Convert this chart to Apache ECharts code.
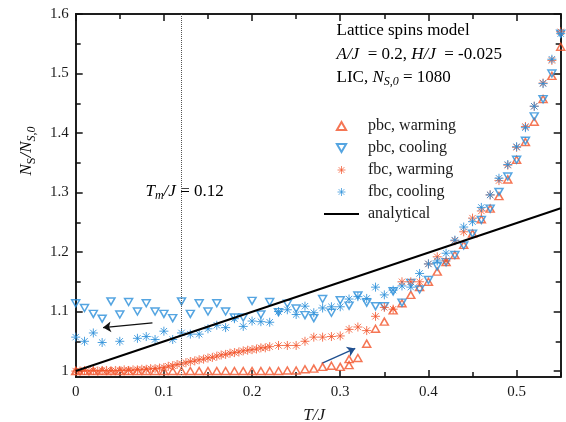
<!DOCTYPE html>
<html><head><meta charset="utf-8">
<script src="https://cdn.jsdelivr.net/npm/echarts/dist/echarts.min.js"></script>
<style>html,body{margin:0;padding:0;background:#fff}#c{width:566px;height:422px}</style>
</head><body><div id="c"></div>
<script>
// ---------- data ----------
const tGrid = [0.00,0.01,0.02,0.03,0.04,0.05,0.06,0.07,0.08,0.09,0.10,0.11,0.12,0.13,0.14,0.15,0.16,0.17,0.18,0.19,0.20,0.21,0.22,0.23,0.24,0.25,0.26,0.27,0.28,0.29,0.30,0.31,0.32,0.33,0.34,0.35,0.36,0.37,0.38,0.39,0.40,0.41,0.42,0.43,0.44,0.45,0.46,0.47,0.48,0.49,0.50,0.51,0.52,0.53,0.54,0.55];

const pbcWarmY = [1.000,1.000,1.000,1.000,1.000,1.000,1.000,1.000,1.000,1.000,1.000,1.000,1.000,1.000,1.000,1.000,1.000,1.000,1.000,1.000,1.000,1.000,1.000,1.000,1.001,1.001,1.003,1.004,1.007,1.009,1.007,1.010,1.022,1.046,1.071,1.083,1.102,1.114,1.128,1.141,1.150,1.167,1.183,1.195,1.212,1.231,1.255,1.273,1.294,1.322,1.355,1.385,1.419,1.457,1.496,1.545];
const pbcWarmExtraX = [0.31];
const pbcWarmExtraY = [1.020];

const pbcCoolY = [1.114,1.106,1.096,1.088,1.117,1.095,1.116,1.100,1.114,1.100,1.096,1.089,1.117,1.096,1.114,1.100,1.114,1.100,1.090,1.090,1.118,1.095,1.116,1.099,1.113,1.105,1.094,1.089,1.121,1.098,1.119,1.110,1.127,1.115,1.109,1.109,1.134,1.115,1.148,1.137,1.153,1.176,1.183,1.195,1.211,1.231,1.254,1.273,1.301,1.327,1.355,1.387,1.428,1.457,1.500,1.567];

const fbcWarmX = [0.000,0.005,0.010,0.015,0.020,0.025,0.030,0.035,0.040,0.045,0.050,0.055,0.060,0.065,0.070,0.075,0.080,0.085,0.090,0.095,0.100,0.105,0.110,0.115,0.120,0.125,0.130,0.135,0.140,0.145,0.150,0.155,0.160,0.165,0.170,0.175,0.180,0.185,0.190,0.195,0.200,0.205,0.210,0.215,0.220,
  0.23,0.24,0.25,0.26,0.27,0.28,0.29,0.30,0.31,0.32,0.33,0.34,0.35,0.36,0.37,0.38,0.39,0.40,0.41,0.42,0.43,0.44,0.45,0.46,0.47,0.48,0.49,0.50,0.51,0.52,0.53,0.54,0.55];
const fbcWarmY = [1.000,1.000,1.001,1.000,1.001,1.000,1.001,1.001,1.000,1.001,1.001,1.002,1.001,1.002,1.002,1.003,1.003,1.004,1.004,1.005,1.006,1.008,1.009,1.011,1.012,1.014,1.016,1.017,1.019,1.020,1.022,1.023,1.025,1.027,1.028,1.030,1.031,1.032,1.034,1.035,1.036,1.037,1.039,1.039,1.041,
  1.043,1.043,1.043,1.050,1.057,1.057,1.058,1.059,1.070,1.074,1.068,1.092,1.107,1.104,1.150,1.150,1.150,1.180,1.192,1.185,1.219,1.234,1.257,1.269,1.296,1.320,1.346,1.376,1.411,1.445,1.484,1.522,1.570];

const fbcCoolX = [0.00,0.01,0.02,0.03,0.05,0.07,0.08,0.09,0.10,0.11,0.12,0.13,0.14,0.15,0.16,0.17,0.18,0.19,0.20,0.21,0.22,0.23,0.24,0.25,0.26,0.27,0.28,0.29,0.30,0.31,0.32,0.33,0.34,0.35,0.36,0.37,0.38,0.39,0.40,0.41,0.42,0.43,0.44,0.45,0.46,0.47,0.48,0.49,0.50,0.51,0.52,0.53,0.54,0.55];
const fbcCoolY = [1.057,1.050,1.064,1.048,1.050,1.055,1.058,1.053,1.067,1.053,1.064,1.062,1.062,1.071,1.077,1.073,1.088,1.075,1.084,1.083,1.082,1.100,1.103,1.095,1.109,1.098,1.106,1.108,1.108,1.121,1.125,1.122,1.141,1.128,1.136,1.143,1.141,1.164,1.180,1.185,1.198,1.220,1.242,1.251,1.275,1.296,1.324,1.347,1.377,1.409,1.445,1.483,1.524,1.567];

const analyticX = [0.0, 0.55];
const analyticY = [1.0, 1.2735];

const meltT = 0.12;
const arrowCoolFrom = [0.087, 1.081];
const arrowCoolTo   = [0.031, 1.073];
const arrowWarmFrom = [0.279, 1.013];
const arrowWarmTo   = [0.317, 1.038];

const xMajor = [0, 0.1, 0.2, 0.3, 0.4, 0.5];
const xMinor = [0.05, 0.15, 0.25, 0.35, 0.45, 0.55];
const yMajor = [1.0, 1.1, 1.2, 1.3, 1.4, 1.5, 1.6];
const yMinor = [1.05, 1.15, 1.25, 1.35, 1.45, 1.55];

const legendNames = ['pbc, warming', 'pbc, cooling', 'fbc, warming', 'fbc, cooling', 'analytical'];

// ---------- build ----------
const zip = (xs, ys) => xs.map((x, i) => [x, ys[i]]);
const RED = '#f2542b', BLUE = '#2b8fd9';
const SERIF = '"Liberation Serif", "DejaVu Serif", serif';
const STAR = 'path://M5 0 L5 10 M0 5 L10 5 M1.46 1.46 L8.54 8.54 M8.54 1.46 L1.46 8.54';
const TRI_UP = 'path://M5 0 L10 8.66 L0 8.66 Z';
const TRI_DOWN = 'path://M0 0 L10 0 L5 8.66 Z';
const LINE_ICON = 'path://M0 0 L35 0 L35 2 L0 2 Z';

function xAx(pos, vals, len, labels) {
  return {
    type: 'value', position: pos, min: 0, max: 0.55,
    axisLine: { show: true, onZero: false, lineStyle: { color: '#111', width: 1.5 } },
    axisTick: { show: true, inside: true, length: len, customValues: vals, lineStyle: { color: '#111', width: 1.5 } },
    axisLabel: labels ? { show: true, customValues: vals, color: '#1a1a1a', fontFamily: SERIF, fontSize: 15, margin: 8 } : { show: false },
    splitLine: { show: false }
  };
}
function yAx(pos, vals, len, labels) {
  return {
    type: 'value', position: pos, min: 0.99, max: 1.6,
    axisLine: { show: true, onZero: false, lineStyle: { color: '#111', width: 1.5 } },
    axisTick: { show: true, inside: true, length: len, customValues: vals, lineStyle: { color: '#111', width: 1.5 } },
    axisLabel: labels ? { show: true, customValues: vals, color: '#1a1a1a', fontFamily: SERIF, fontSize: 15, margin: 7 } : { show: false },
    splitLine: { show: false }
  };
}

const xAxes = [xAx('bottom', xMajor, 7, true), xAx('bottom', xMinor, 5, false), xAx('top', xMajor, 7, false), xAx('top', xMinor, 5, false)];
xAxes[0].name = 'T/J';
xAxes[0].nameLocation = 'middle';
xAxes[0].nameGap = 30;
xAxes[0].nameTextStyle = { fontFamily: SERIF, fontStyle: 'italic', fontSize: 17, color: '#1a1a1a', padding: [0, 8, 0, 0] };
const yAxes = [yAx('left', yMajor, 7, true), yAx('left', yMinor, 5, false), yAx('right', yMajor, 7, false), yAx('right', yMinor, 5, false)];

const rich = {
  i: { fontFamily: SERIF, fontStyle: 'italic', fontSize: 17, color: '#1a1a1a' },
  n: { fontFamily: SERIF, fontSize: 17, color: '#1a1a1a' },
  s: { fontFamily: SERIF, fontStyle: 'italic', fontSize: 12, color: '#1a1a1a', padding: [9, 0, 0, 0] },
  sn: { fontFamily: SERIF, fontSize: 12, color: '#1a1a1a', padding: [9, 0, 0, 0] }
};

const option = {
  backgroundColor: '#fff',
  animation: false,
  grid: { left: 75.7, right: 5.3, top: 14, bottom: 45, containLabel: false, outerBoundsMode: 'none' },
  xAxis: xAxes,
  yAxis: yAxes,
  legend: {
    data: [
      { name: legendNames[0] },
      { name: legendNames[1] },
      { name: legendNames[2], itemStyle: { borderWidth: 0.8, opacity: 0.9 } },
      { name: legendNames[3], itemStyle: { borderWidth: 0.8, opacity: 0.9 } },
      { name: legendNames[4], icon: LINE_ICON, itemStyle: { color: '#000', borderWidth: 0 } }
    ],
    orient: 'vertical', left: 319, top: 113,
    itemWidth: 35, itemHeight: 8, itemGap: 6, symbolKeepAspect: true,
    textStyle: { fontFamily: SERIF, fontSize: 16, color: '#1a1a1a', padding: [0, 0, 0, 4] },
    selectedMode: false
  },
  graphic: [
    { type: 'text', left: 336.5, top: 22, style: { text: '{n|Lattice spins model}', rich: rich } },
    { type: 'text', left: 336.5, top: 46, style: { text: '{i|A/J}{n|  = 0.2, }{i|H/J}{n|  = -0.025}', rich: rich } },
    { type: 'text', left: 336.5, top: 69, style: { text: '{n|LIC, }{i|N}{s|S,0}{n| = 1080}', rich: rich } },
    { type: 'text', left: 145.5, top: 183, style: { text: '{i|T}{s|m}{i|/J}{n| = 0.12}', rich: rich } },
    { type: 'text', x: 27, y: 151, rotation: Math.PI / 2,
      style: { text: '{i|N}{sn|S}{i|/N}{s|S,0}', rich: rich, align: 'center', verticalAlign: 'middle' } }
  ],
  series: [
    { name: 'pbc, warming', type: 'scatter', data: zip(tGrid, pbcWarmY).concat(zip(pbcWarmExtraX, pbcWarmExtraY)),
      symbol: TRI_UP, symbolSize: [8, 7], symbolKeepAspect: false,
      itemStyle: { color: 'rgba(255,255,255,0)', borderColor: RED, borderWidth: 1.5 } },
    { name: 'pbc, cooling', type: 'scatter', data: zip(tGrid, pbcCoolY),
      symbol: TRI_DOWN, symbolSize: [8, 7], symbolKeepAspect: false,
      itemStyle: { color: 'rgba(255,255,255,0)', borderColor: BLUE, borderWidth: 1.5 } },
    { name: 'fbc, warming', type: 'scatter', data: zip(fbcWarmX, fbcWarmY),
      symbol: STAR, symbolSize: 9,
      itemStyle: { color: RED, borderColor: RED, borderWidth: 1, opacity: 0.8 } },
    { name: 'fbc, cooling', type: 'scatter', data: zip(fbcCoolX, fbcCoolY),
      symbol: STAR, symbolSize: 9,
      itemStyle: { color: BLUE, borderColor: BLUE, borderWidth: 1, opacity: 0.85 } },
    { name: 'analytical', type: 'line', data: zip(analyticX, analyticY), showSymbol: false, symbol: 'none',
      lineStyle: { color: '#000', width: 2 }, itemStyle: { color: '#000' },
      markLine: { silent: true, symbol: 'none', label: { show: false },
        lineStyle: { type: 'dotted', color: '#555', width: 1 }, data: [{ xAxis: meltT }] } },
    { type: 'lines', coordinateSystem: 'cartesian2d', symbol: ['none', 'arrow'], symbolSize: 8,
      lineStyle: { color: '#111', width: 1.3, opacity: 1 },
      data: [{ coords: [arrowCoolFrom, arrowCoolTo] }] },
    { type: 'lines', coordinateSystem: 'cartesian2d', symbol: ['none', 'arrow'], symbolSize: 8,
      lineStyle: { color: '#1f4f8f', width: 1.3, opacity: 1 },
      data: [{ coords: [arrowWarmFrom, arrowWarmTo] }] }
  ]
};
const chart = echarts.init(document.getElementById('c'), null, { renderer: 'canvas' });
chart.setOption(option);
</script></body></html>
